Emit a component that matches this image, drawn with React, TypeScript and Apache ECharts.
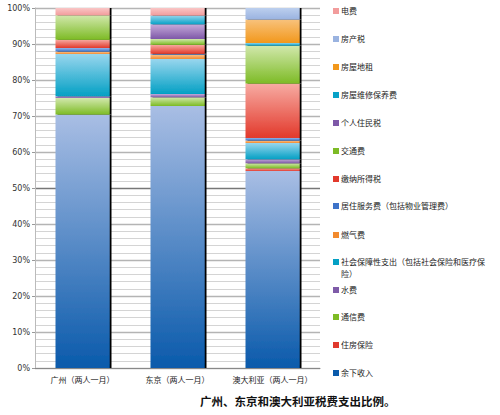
import React, { useEffect, useRef } from 'react';
import * as echarts from 'echarts';

// categories (x axis)
const cities = ['广州（两人一月）', '东京（两人一月）', '澳大利亚（两人一月）'];
const yTicks = [0, 10, 20, 30, 40, 50, 60, 70, 80, 90, 100];

// percent share per city: [广州, 东京, 澳大利亚]
const remaining = [70.4, 72.8, 54.7];      // 余下收入
const housingIns = [0, 0, 0.8];            // 住房保险
const telecom = [4.6, 2.4, 1.4];           // 通信费
const water = [0.5, 0.9, 1.1];             // 水费
const socialSec = [11.7, 9.7, 4.5];        // 社会保障性支出
const gas = [0.7, 1.3, 0.7];               // 燃气费
const housingSvc = [1.0, 0.2, 0.7];        // 居住服务费
const incomeTax = [2.3, 2.5, 15.1];        // 缴纳所得税
const transport = [6.8, 1.6, 10.6];        // 交通费
const residentTax = [0, 4.1, 0];           // 个人住民税
const repair = [0, 2.4, 0.7];              // 房屋维修保养费
const groundRent = [0, 0, 6.5];            // 房屋地租
const propertyTax = [0, 0, 3.2];           // 房产税
const electricity = [2.0, 2.1, 0];         // 电费

// stacked bottom -> top
const seriesNames = [
  '余下收入', '住房保险', '通信费', '水费', '社会保障性支出（包括社会保险和医疗保险）',
  '燃气费', '居住服务费（包括物业管理费）', '缴纳所得税', '交通费', '个人住民税',
  '房屋维修保养费', '房屋地租', '房产税', '电费',
];
const seriesValues = [
  remaining, housingIns, telecom, water, socialSec, gas, housingSvc,
  incomeTax, transport, residentTax, repair, groundRent, propertyTax, electricity,
];
// gradient top / bottom colours
const seriesColors: [string, string][] = [
  ['#a9bee4', '#0a5aab'],
  ['#f6a9a1', '#e0392d'],
  ['#d2e8ad', '#7dbb25'],
  ['#c3aad8', '#7e5ba8'],
  ['#98d6ee', '#04a0c4'],
  ['#fbc590', '#f28a2e'],
  ['#94b5e8', '#3d73c9'],
  ['#f7aba2', '#e2392c'],
  ['#d2e8ad', '#7dbb25'],
  ['#c6abda', '#7e58a8'],
  ['#93d4ec', '#08a2c7'],
  ['#f8c27c', '#f2981c'],
  ['#bccfee', '#9ab3e0'],
  ['#f9c6c6', '#f29c9c'],
];

// legend item vertical centres (top -> bottom)
const legendOrder = [...seriesNames].reverse();
const legendY = [12, 40, 68, 96, 124, 152, 180, 207, 236, 263, 291, 318, 346, 374];

const FONT = '"Noto Sans CJK SC", "Noto Sans", sans-serif';

const App: React.FC = () => {
  const chartRef = useRef<HTMLDivElement>(null);

  useEffect(() => {
    document.body.style.margin = '0';
    if (!chartRef.current) return;
    const chart = echarts.init(chartRef.current, undefined, { renderer: 'svg' });

    const grad = (c: [string, string]) =>
      new echarts.graphic.LinearGradient(0, 0, 0, 1, [
        { offset: 0, color: c[0] },
        { offset: 1, color: c[1] },
      ]);

    const series = seriesNames.map((name, i) => ({
      name,
      type: 'bar' as const,
      stack: 'total',
      barWidth: 54,
      data: seriesValues[i],
      itemStyle: {
        color: grad(seriesColors[i]),
        shadowColor: '#000',
        shadowOffsetX: 2,
        shadowOffsetY: 0,
        shadowBlur: 0,
      },
    }));

    const legends = legendOrder.map((name, k) => {
      const idx = seriesNames.indexOf(name);
      return {
        left: 333,
        top: legendY[k] - 5,
        orient: 'vertical' as const,
        padding: 0,
        itemWidth: 6,
        itemHeight: 6,
        itemGap: 0,
        icon: 'rect',
        selectedMode: false,
        data: [{ name, itemStyle: { color: seriesColors[idx][1] } }],
        formatter: (n: string) =>
          n.startsWith('社会保障') ? '社会保障性支出（包括社会保险和医疗保' : n,
        textStyle: { fontSize: 8, color: '#222', fontFamily: FONT, padding: [0, 0, 0, -3] },
      };
    });

    const option: echarts.EChartsOption = {
      animation: false,
      backgroundColor: '#fff',
      textStyle: { fontFamily: FONT },
      grid: { left: 35, right: 180, top: 8, bottom: 47 },
      legend: legends,
      xAxis: {
        type: 'category',
        data: cities,
        axisLine: { lineStyle: { color: '#888', width: 1 } },
        axisTick: { show: false },
        axisLabel: {
          fontSize: 8,
          color: '#222',
          margin: 7,
          interval: 0,
          hideOverlap: false,
          fontFamily: FONT,
        },
      },
      yAxis: {
        type: 'value',
        min: yTicks[0],
        max: yTicks[yTicks.length - 1],
        interval: 10,
        axisLine: { show: true, lineStyle: { color: '#bbb' } },
        axisTick: { show: true, length: 3, lineStyle: { color: '#999' } },
        axisLabel: {
          fontSize: 8,
          color: '#333',
          margin: 5,
          formatter: (v: number) => `${v}%`,
          fontFamily: 'DejaVu Sans, sans-serif',
        },
        splitLine: {
          show: true,
          lineStyle: {
            color: yTicks.map((t) => (t === 50 ? '#777' : '#b4b4b4')),
            width: 1.3,
          },
        },
        minorTick: { show: false, splitNumber: 5 },
        minorSplitLine: { show: true, lineStyle: { color: '#d4d4d4', width: 1 } },
      },
      graphic: [
        {
          type: 'text',
          left: 341,
          top: 269,
          style: { text: '险）', fontSize: 8, fill: '#222', fontFamily: FONT },
        },
        {
          type: 'text',
          left: 200,
          top: 395,
          style: {
            text: '广州、东京和澳大利亚税费支出比例。',
            fontSize: 11.5,
            fontWeight: 'bold',
            fill: '#111',
            fontFamily: FONT,
          },
        },
      ],
      series,
    };

    chart.setOption(option);
    return () => chart.dispose();
  }, []);

  return <div ref={chartRef} style={{ width: 500, height: 415 }} />;
};

export default App;
